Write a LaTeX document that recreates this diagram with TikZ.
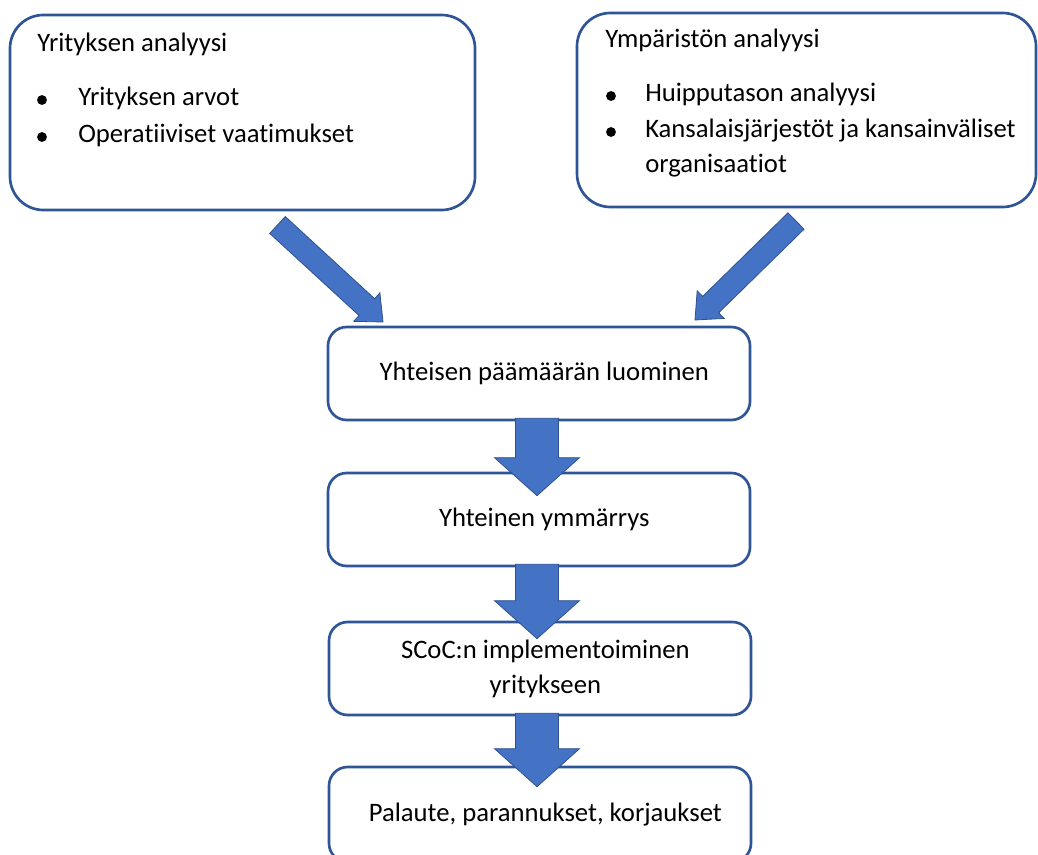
\documentclass[tikz,border=0pt]{standalone}
\usepackage{fontspec}
\setmainfont{Carlito}[Ligatures=NoCommon]
\usetikzlibrary{calc}

\definecolor{boxline}{HTML}{2F5597}
\definecolor{arrowfill}{HTML}{4472C4}
\definecolor{arrowline}{HTML}{2F528F}

\tikzset{
  bigbox/.style={draw=boxline, line width=2pt, rounded corners=25pt, fill=white,
    inner sep=0pt, minimum width=348.75pt, minimum height=146.25pt},
  stepbox/.style={draw=boxline, line width=2pt, rounded corners=14pt, fill=white,
    inner sep=0pt, minimum width=316.5pt, minimum height=69.75pt, align=center,
    font=\fontsize{20}{26.25}\selectfont},
  lbl/.style={anchor=base west, inner sep=0pt, font=\fontsize{20}{24}\selectfont},
  blockarrow/.style={fill=arrowfill, draw=arrowline, line width=0.6pt, line join=miter},
  bulletdot/.style={fill=black},
}

% block arrow: tail, tip, half shaft width, half head width, head length
\newcommand\fatarrow[5]{%
  \coordinate (fa-base) at ($(#2)!#5!(#1)$);
  \draw[blockarrow] ($(#1)!#3!90:(#2)$) -- ($(fa-base)!#3!90:(#2)$)
    -- ($(fa-base)!#4!90:(#2)$) -- (#2) -- ($(fa-base)!#4!-90:(#2)$)
    -- ($(fa-base)!#3!-90:(#2)$) -- ($(#1)!#3!-90:(#2)$) -- cycle;
}

\begin{document}
\begin{tikzpicture}[x=0.75pt, y=-0.75pt]
  \useasboundingbox (0,0) rectangle (1038,855);
  \clip (0,0) rectangle (1038,855);
  \fill[white] (0,0) rectangle (1038,855);

  % analysis boxes
  \node[bigbox] (b1) at (242.5,112.5) {};
  \node[bigbox, minimum width=344.25pt, minimum height=145.5pt] (b2) at (806.5,110) {};

  \node[lbl] (t1) at (37,52) {Yrityksen analyysi};
  \fill[bulletdot] (42,100) circle[radius=3.7pt];
  \fill[bulletdot] (42,137) circle[radius=3.7pt];
  \node[lbl] (t1a) at (78,106) {Yrityksen arvot};
  \node[lbl] (t1b) at (78,143) {Operatiiviset vaatimukset};

  \node[lbl] (t2) at (605,48) {Ympäristön analyysi};
  \fill[bulletdot] (611,96) circle[radius=3.7pt];
  \fill[bulletdot] (611,132) circle[radius=3.7pt];
  \node[lbl] (t2a) at (645,102) {Huipputason analyysi};
  \node[lbl] (t2b) at (645,138) {Kansalaisjärjestöt ja kansainväliset};
  \node[lbl] (t2c) at (645,173) {organisaatiot};

  % process steps
  \node[stepbox] (b3) at (539,373.5) {\hspace*{8pt}Yhteisen päämäärän luominen};
  \node[stepbox] (b4) at (539,519.5) {\hspace*{8pt}Yhteinen ymmärrys};
  \node[stepbox] (b5) at (540,668.5) {\hspace*{8pt}SCoC:n implementoiminen\\\hspace*{8pt}yritykseen};
  \node[stepbox, minimum height=71.25pt] (b6) at (540,814.5) {\hspace*{8pt}Palaute, parannukset, korjaukset};

  % arrows into the first step
  \coordinate (la-tail) at (277.5,225);
  \coordinate (la-tip) at (383,322);
  \coordinate (ra-tail) at (796,221);
  \coordinate (ra-tip) at (695,320);
  \fatarrow{la-tail}{la-tip}{8.6pt}{14.5pt}{16.5pt}
  \fatarrow{ra-tail}{ra-tip}{8.6pt}{14.5pt}{16.5pt}

  % arrows between steps
  \coordinate (d1-tail) at ($(b3.south)+(-2,-3)$);
  \coordinate (d1-tip) at ($(b4.north)+(-2,24)$);
  \coordinate (d2-tail) at ($(b4.south)+(-2,-3)$);
  \coordinate (d2-tip) at ($(b5.north)+(-3,18)$);
  \coordinate (d3-tail) at ($(b5.south)+(-3,-3)$);
  \coordinate (d3-tip) at ($(b6.north)+(-3,21)$);
  \fatarrow{d1-tail}{d1-tip}{16.1pt}{31.9pt}{28.5pt}
  \fatarrow{d2-tail}{d2-tip}{16.1pt}{31.9pt}{28.5pt}
  \fatarrow{d3-tail}{d3-tip}{16.1pt}{31.9pt}{28.5pt}
\end{tikzpicture}
\end{document}
